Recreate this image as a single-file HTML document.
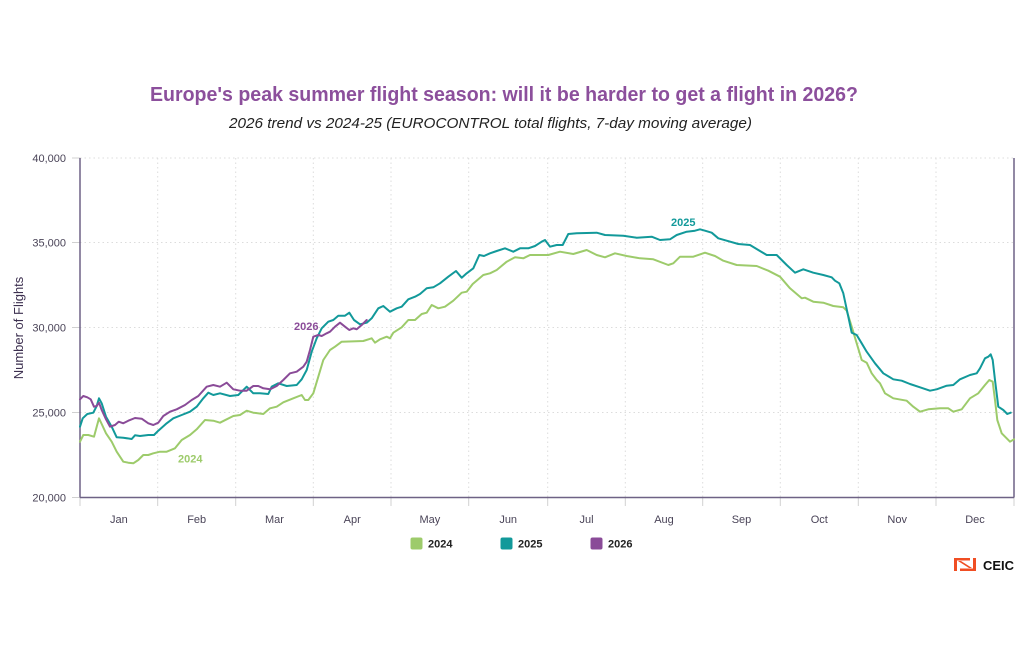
<!DOCTYPE html>
<html><head><meta charset="utf-8"><style>
html,body{margin:0;padding:0;background:#fff;}
svg{display:block;font-family:"Liberation Sans",sans-serif;}
</style></head><body>
<svg width="1024" height="652" viewBox="0 0 1024 652" xmlns="http://www.w3.org/2000/svg">
<rect width="1024" height="652" fill="#fff"/>
<text x="504" y="101" text-anchor="middle" font-size="20.5" font-weight="bold" fill="#8C4F9C" textLength="708" lengthAdjust="spacingAndGlyphs">Europe's peak summer flight season: will it be harder to get a flight in 2026?</text>
<text x="490.5" y="128" text-anchor="middle" font-size="15" font-style="italic" fill="#222" textLength="523" lengthAdjust="spacingAndGlyphs">2026 trend vs 2024-25 (EUROCONTROL total flights, 7-day moving average)</text>
<g stroke="#dcdcdc" stroke-width="1" stroke-dasharray="1.5,3" fill="none">
<line x1="80" y1="158" x2="1014" y2="158"/>
<line x1="80" y1="242.5" x2="1014" y2="242.5"/>
<line x1="80" y1="327.5" x2="1014" y2="327.5"/>
<line x1="80" y1="412.5" x2="1014" y2="412.5"/>
<line x1="157.7" y1="158" x2="157.7" y2="497"/>
<line x1="235.7" y1="158" x2="235.7" y2="497"/>
<line x1="313.3" y1="158" x2="313.3" y2="497"/>
<line x1="391" y1="158" x2="391" y2="497"/>
<line x1="468.7" y1="158" x2="468.7" y2="497"/>
<line x1="547.7" y1="158" x2="547.7" y2="497"/>
<line x1="625.3" y1="158" x2="625.3" y2="497"/>
<line x1="702.7" y1="158" x2="702.7" y2="497"/>
<line x1="780.3" y1="158" x2="780.3" y2="497"/>
<line x1="858.3" y1="158" x2="858.3" y2="497"/>
<line x1="936" y1="158" x2="936" y2="497"/>
</g>
<g stroke="#d0d0d0" stroke-width="1">
<line x1="80" y1="497" x2="80" y2="506"/>
<line x1="157.7" y1="497" x2="157.7" y2="506"/>
<line x1="235.7" y1="497" x2="235.7" y2="506"/>
<line x1="313.3" y1="497" x2="313.3" y2="506"/>
<line x1="391" y1="497" x2="391" y2="506"/>
<line x1="468.7" y1="497" x2="468.7" y2="506"/>
<line x1="547.7" y1="497" x2="547.7" y2="506"/>
<line x1="625.3" y1="497" x2="625.3" y2="506"/>
<line x1="702.7" y1="497" x2="702.7" y2="506"/>
<line x1="780.3" y1="497" x2="780.3" y2="506"/>
<line x1="858.3" y1="497" x2="858.3" y2="506"/>
<line x1="936" y1="497" x2="936" y2="506"/>
<line x1="1014" y1="497" x2="1014" y2="506"/>
<line x1="72" y1="158" x2="80" y2="158"/>
<line x1="72" y1="242.5" x2="80" y2="242.5"/>
<line x1="72" y1="327.5" x2="80" y2="327.5"/>
<line x1="72" y1="412.5" x2="80" y2="412.5"/>
<line x1="72" y1="497.5" x2="80" y2="497.5"/>
</g>
<g stroke="#6E6285" stroke-width="1.5" fill="none">
<line x1="80" y1="158" x2="80" y2="497.5"/>
<line x1="80" y1="497.5" x2="1014" y2="497.5"/>
<line x1="1014" y1="158" x2="1014" y2="497.5"/>
</g>
<g font-size="11" fill="#4a4458" text-anchor="end">
<text x="66" y="162">40,000</text>
<text x="66" y="246.5">35,000</text>
<text x="66" y="331.5">30,000</text>
<text x="66" y="416.5">25,000</text>
<text x="66" y="501.5">20,000</text>
</g>
<g font-size="11" fill="#4a4458" text-anchor="middle">
<text x="118.9" y="523">Jan</text>
<text x="196.7" y="523">Feb</text>
<text x="274.5" y="523">Mar</text>
<text x="352.2" y="523">Apr</text>
<text x="429.9" y="523">May</text>
<text x="508.2" y="523">Jun</text>
<text x="586.5" y="523">Jul</text>
<text x="664" y="523">Aug</text>
<text x="741.5" y="523">Sep</text>
<text x="819.3" y="523">Oct</text>
<text x="897.2" y="523">Nov</text>
<text x="975" y="523">Dec</text>
</g>
<text transform="translate(23,328) rotate(-90)" text-anchor="middle" font-size="13" fill="#3d3050">Number of Flights</text>
<g fill="none" stroke-width="2" stroke-linejoin="round" stroke-linecap="round">
<polyline stroke="#9DCB6B" points="80,441.7 83.3,435 88.3,435 94,436.7 96.7,426.7 99,418.3 101.7,424 106,433.3 111.7,441.7 116.7,451.7 123.3,461.7 128.3,462.7 133.3,463.3 138.3,460 143.3,455 148.3,455 153.3,453.3 160,451.7 166.7,451.7 175,448.3 181.7,440 190,435 196.7,429.3 205,420 213.3,420.7 220,422.7 226.7,419.3 233.3,416 240,415 246.7,410.7 253.3,412.7 263.3,414 270,408.3 276.7,406.7 283.3,402.3 293.3,398.3 301.7,395 305,400 308.3,400 313.3,393.3 318.3,376.7 323.3,360 330,350 335,346.7 341.7,341.7 363.3,341 371.7,338.3 375,342.7 380,339.3 386.7,336.7 390,338.3 393.3,332.7 401.7,327.3 408.3,320 415,320 421.7,314 426.7,312.7 431.7,305 438.3,308.3 445,306.7 453.3,300.7 461.7,292.7 466.7,291.7 472.7,284 483.3,275 490,273.3 496.7,270 506.7,261.7 515,257.3 523.3,258.3 530,255 540,255 548.3,255 560,251.7 573.3,254 586.7,250 596.7,255 605,257.3 615,253.3 626.7,256 640,258.3 653.3,259.3 668.3,265 673.3,263.3 680,256.7 693.3,256.7 705,252.7 715,256 723.3,260.7 736.7,265 756.7,266 768.3,270.7 780,276.7 790,288.3 801.7,298.3 805,297.7 813.3,301.7 823.3,302.7 833.3,306 843.3,307.3 846.7,310.7 851.7,326.7 856.7,343.3 861.7,360 866.7,362.7 871.7,373.3 876.7,380 880,383.3 885,393.3 893.3,398.3 906.7,400.7 913.3,406.7 920,411.7 928.3,409.3 940,408.3 948.3,408.3 953.3,411.7 961.7,409.3 970,398.3 978.3,393.3 985,385 989.3,380 992.7,381.7 995,400 997.3,420 1001.7,433.3 1010,441.7 1014,439.3"/>
<polyline stroke="#12999A" points="80,426.7 82.7,418.3 87.3,414 93.3,412.7 96.7,406 99,398.3 101.7,403.3 106,416.7 111.7,426.7 116.7,437.3 123.3,437.7 131.7,439 135,435.3 140,436 148.3,435 154,435 158.3,430.7 166.7,423.3 173.3,418.3 181.7,415 190,411.7 196.7,406.7 203.3,398.3 208.3,392.7 213.3,395 220,393.3 230,396 238.3,395 246.7,386.7 253.3,393.3 260,393.3 268.3,394 271.7,386.7 278.3,383.3 286.7,386 296.7,385 301.7,379.3 306.7,370 311.7,351.7 316.7,338.3 321.7,328.3 328.3,321.7 333.3,320 338.3,315.7 345,315.7 349.3,312.7 354,320 360,324.3 366.7,322.7 371.7,318.3 378.3,308.3 383.3,306 390,311.7 396.7,308.3 401.7,306.7 408.3,299.3 415,296.7 420,294 426.7,288.3 433.3,287.3 440,283.3 448.3,276.7 456,271 461.7,277.7 466.7,273.3 473.3,268.3 479.3,255 484,256 490,253.3 496.7,251 505,248.3 513.3,251.7 520,248.3 528.3,248.3 535,246 541.7,241.7 545,240 550,246.7 556.7,245 562.7,245 568.3,234 576.7,233.3 596.7,232.7 605,235 623.3,235.7 636.7,237.7 651.7,236.7 660,240 670,239.3 676.7,235 686.7,231.7 695,230.7 700,229.3 705,230.7 711.7,232.7 718.3,238.3 726.7,240.7 738.3,244 750,245 758.3,250 766.7,255 776.7,255 786.7,265 795,272.7 803.3,269.3 813.3,272.7 823.3,275 831.7,277.3 835,280.7 839.3,283.3 843.3,293.3 848.3,316.7 851.7,332.7 856.7,335 861.7,343.3 866.7,351.7 875,363.3 883.3,373.3 893.3,379.3 901.7,380.7 910,384 920,387.3 930,390.7 936.7,389.3 946.7,385.7 953.3,385 960,379.3 970,375 976.7,373.3 980,368.3 985,358.3 988.3,356.7 990.7,354.3 992.7,360 995,380 998.3,406.7 1003.3,410 1007.3,414 1010.7,412.7"/>
<polyline stroke="#8A4B98" points="80,399.3 83.3,396 87.3,397.3 90.7,399.3 94,406.7 96.7,406 99,402.7 101.7,410 106,419.3 110,426.7 115,425 118.7,421.7 123.3,423.3 128.3,420.7 135,418 141.7,418.7 148.3,423.3 153.3,425 158.3,422.7 163.3,416 170,411.7 176.7,409.3 185,405 191.7,400 198.3,396 206.7,386.7 213.3,385 220,386.7 226.7,382.7 233.3,389.3 240,390.7 246.7,390.7 253.3,386 258.3,386 263.3,388.3 270,389.3 276.7,386 283.3,380 290,373.3 296.7,371.7 303.3,366.7 306.7,361.7 310,350 313.3,336.7 318.3,335 321.7,336 326.7,333.3 330,331.7 335,326.7 340,322.7 345,326.7 349.3,330 353.3,328.3 356.7,329.3 361.7,325 366.7,320"/>
</g>
<text x="294" y="330" font-size="11" font-weight="bold" fill="#8A4B98">2026</text>
<text x="178" y="462.5" font-size="11" font-weight="bold" fill="#9DCB6B">2024</text>
<text x="671" y="226" font-size="11" font-weight="bold" fill="#12999A">2025</text>
<rect x="410.5" y="537.5" width="12" height="12" rx="2" fill="#9DCB6B"/>
<text x="428" y="547.5" font-size="11" font-weight="bold" fill="#222">2024</text>
<rect x="500.5" y="537.5" width="12" height="12" rx="2" fill="#12999A"/>
<text x="518" y="547.5" font-size="11" font-weight="bold" fill="#222">2025</text>
<rect x="590.5" y="537.5" width="12" height="12" rx="2" fill="#8A4B98"/>
<text x="608" y="547.5" font-size="11" font-weight="bold" fill="#222">2026</text>
<g fill="#F04E23">
<rect x="954" y="558" width="3" height="13"/>
<rect x="973" y="558" width="3" height="13"/>
<rect x="957" y="558" width="13" height="2.5"/>
<rect x="960" y="568.5" width="13" height="2.5"/>
<polygon points="958,561 961,561 972,568 969,568"/>
</g>
<text x="983" y="570" font-size="12.5" font-weight="bold" fill="#111" textLength="31" lengthAdjust="spacingAndGlyphs">CEIC</text>
</svg>
</body></html>
